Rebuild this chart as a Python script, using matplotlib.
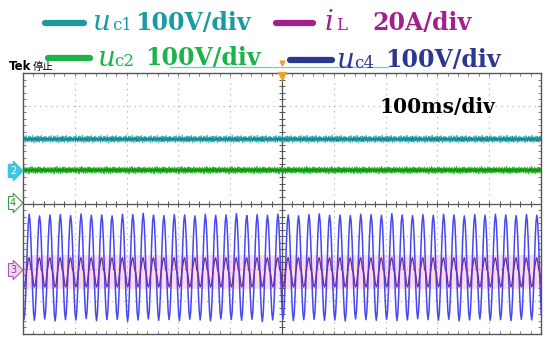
import numpy as np
import matplotlib.pyplot as plt
from matplotlib.lines import Line2D

plt.rcParams['font.family'] = ['DejaVu Sans', 'Noto Sans CJK SC']

# ---- data (vertical unit = divisions) ----
period = 0.2          # 20 ms per cycle at 100 ms/div
t_first_peak = 0.12   # first uc4 peak, in divisions from left edge

uc1_level = 1.97
uc2_level = 1.02
iL_level = -2.1

# uc1 noise (div), read roughly from the band thickness
uc1_noise = [0.04, -0.06, 0.09, -0.02, 0.07, -0.10, 0.03, 0.11, -0.05, 0.02,
             -0.08, 0.06, -0.03, 0.10, -0.07, 0.01, 0.08, -0.04, -0.09, 0.05,
             0.12, -0.06, 0.02, -0.11, 0.07, -0.01, 0.04, -0.08, 0.09, -0.05,
             0.03, 0.10, -0.07, -0.02, 0.06, -0.09, 0.08, -0.04, 0.01, 0.11,
             -0.06, 0.05, -0.10, 0.03, 0.07, -0.03, -0.08, 0.09, -0.05, 0.02,
             0.06, -0.07, 0.00]
uc2_noise = [-0.03, 0.07, -0.08, 0.02, 0.10, -0.05, 0.04, -0.09, 0.06, -0.01,
             0.08, -0.06, 0.03, -0.11, 0.05, 0.09, -0.04, 0.01, -0.07, 0.11,
             -0.02, 0.06, -0.09, 0.04, -0.05, 0.08, 0.02, -0.10, 0.07, -0.03,
             0.05, -0.08, 0.10, -0.01, -0.06, 0.03, 0.09, -0.07, 0.04, -0.04,
             0.07, -0.09, 0.01, 0.06, -0.05, 0.10, -0.02, -0.08, 0.05, 0.03,
             -0.06, 0.08, -0.04]

# uc4: one cycle shape (peak -> peak) and per-cycle top / bottom (div)
uc4_shape = [1.0, 0.86, 0.5, 0.0, -0.5, -0.86, -1.0, -0.86, -0.5, 0.0, 0.5, 0.86]
uc4_top = [-0.36, -0.33, -0.38, -0.35, -0.34, -0.37, -0.32, -0.36, -0.35, -0.38,
           -0.33, -0.34, -0.30, -0.36, -0.37, -0.34, -0.35, -0.38, -0.33, -0.36,
           -0.35, -0.31, -0.37, -0.34, -0.36, -0.33, -0.35, -0.38, -0.34, -0.32,
           -0.36, -0.35, -0.37, -0.33, -0.34, -0.36, -0.31, -0.35, -0.37, -0.34,
           -0.36, -0.33, -0.35, -0.38, -0.34, -0.36, -0.33, -0.35, -0.37, -0.34,
           -0.36]
uc4_bottom = [-3.55, -3.58, -3.54, -3.60, -3.56, -3.57, -3.53, -3.59, -3.56, -3.55,
              -3.61, -3.57, -3.54, -3.58, -3.56, -3.59, -3.55, -3.57, -3.60, -3.54,
              -3.56, -3.58, -3.55, -3.62, -3.57, -3.54, -3.59, -3.56, -3.55, -3.58,
              -3.57, -3.60, -3.54, -3.56, -3.58, -3.55, -3.59, -3.57, -3.53, -3.56,
              -3.58, -3.55, -3.60, -3.57, -3.54, -3.58, -3.56, -3.59, -3.55, -3.57,
              -3.56]

# iL: one cycle (offset from its level, div)
iL_shape = [0.44, 0.30, 0.08, 0.02, -0.12, -0.36, -0.46, -0.40, -0.18, 0.05, 0.22, 0.38]
iL_band = (-1.58, -2.62)   # faint pink envelope

# ---- build traces ----
n_cyc = len(uc4_top)
n_s = len(uc4_shape)
t_wave = t_first_peak - period + np.arange(n_cyc * n_s + 1) * period / n_s
top = np.repeat(uc4_top, n_s)
bot = np.repeat(uc4_bottom, n_s)
shape = np.tile(uc4_shape, n_cyc)
uc4 = (top + bot) / 2 + (top - bot) / 2 * shape
uc4 = np.append(uc4, uc4[0])
iL = iL_level + np.append(np.tile(iL_shape, n_cyc), iL_shape[0])

t_dc = np.linspace(0, 10, 1100)
uc1 = uc1_level + np.resize(uc1_noise, t_dc.size)
uc1b = uc1_level + np.resize(uc1_noise[::-1], t_dc.size) * 0.7
uc2 = uc2_level + np.resize(uc2_noise, t_dc.size)
uc2b = uc2_level + np.resize(uc2_noise[::-1], t_dc.size) * 0.7

W, H = 550, 343
fig = plt.figure(figsize=(W / 100, H / 100), dpi=100)


def fx(x):
    return x / W


def fy(y):
    return 1 - y / H


ax = fig.add_axes([fx(23), fy(334), fx(518), 261 / H])
ax.set_xlim(0, 10)
ax.set_ylim(-4, 4)

# grid
for gx in range(1, 10):
    ax.axvline(gx, color='#a8a8a8', lw=0.8, ls=(0, (1, 4)))
for gy in range(-3, 4):
    ax.axhline(gy, color='#a8a8a8', lw=0.8, ls=(0, (1, 4)))
ax.axvline(5, color='#555555', lw=0.9)
ax.axhline(0, color='#555555', lw=0.9)
tk = np.arange(0, 10.01, 0.2)
ax.plot(tk, np.zeros_like(tk), ls='none', marker='|', ms=4, color='#555555', mew=0.7)
tk = np.arange(-4, 4.01, 0.2)
ax.plot(np.full_like(tk, 5), tk, ls='none', marker='_', ms=4, color='#555555', mew=0.7)

ax.set_xticks([])
ax.set_yticks([])
ax.set_xticks(np.arange(0, 10.01, 0.2), minor=True)
ax.set_yticks(np.arange(-4, 4.01, 0.2), minor=True)
ax.tick_params(which='minor', direction='in', length=2.5, width=0.6, color='#666666',
               top=True, right=True, labelbottom=False, labelleft=False)
for s in ax.spines.values():
    s.set_color('#555555')
    s.set_linewidth(1.0)

# traces
ax.fill_between([0, 10], iL_band[0], iL_band[1], color='#f9dcf4', lw=0)
ax.plot(t_dc, uc1, color='#40c8d2', lw=0.8)
ax.plot(t_dc, uc1b, color='#1f7f88', lw=0.5)
ax.plot(t_dc, uc2, color='#2ccb2c', lw=0.8)
ax.plot(t_dc, uc2b, color='#178a17', lw=0.5)
ax.plot(t_wave, uc4, color='#4848f0', lw=1.1)
ax.plot(t_wave, iL, color='#6e2c9c', lw=0.9)

# channel markers
fig.text(fx(13), fy(171), '2', color='white', fontsize=7, ha='center', va='center',
         bbox=dict(boxstyle='rarrow,pad=0.15', fc='#3ec6de', ec='#3ec6de'))
fig.text(fx(13), fy(203), '4', color='#2f8f2f', fontsize=7, ha='center', va='center',
         bbox=dict(boxstyle='rarrow,pad=0.15', fc='white', ec='#3c9a3c', lw=0.8))
fig.text(fx(13), fy(270), '3', color='#8a3a9a', fontsize=7, ha='center', va='center',
         bbox=dict(boxstyle='rarrow,pad=0.15', fc='#f5d5f2', ec='#a060b0', lw=0.8))

# trigger marks
fig.add_artist(Line2D([fx(282)], [fy(76)], marker='v', ms=6, color='#f0a030', ls='none'))
fig.add_artist(Line2D([fx(282)], [fy(63)], marker='v', ms=3.5, color='#f0a030', ls='none'))

# thin cyan bar under the top legend row
fig.add_artist(Line2D([fx(170), fx(388)], [fy(67), fy(67)], color='#5cd0d8', lw=0.9))

fig.text(fx(9), fy(67), 'Tek', fontsize=8.5, fontweight='bold', va='center')
fig.text(fx(33), fy(67), '停止', fontsize=7.5, va='center',
         family=['Noto Sans CJK SC', 'DejaVu Sans'])

# legend (top)
serif = 'DejaVu Serif'
legend = [
    (45, 84, 23, '#1b9aa0', 'u', 'c1', '100V/div', 92, 112, 135),
    (276, 313, 23, '#a31f8e', 'i', 'L', '20A/div', 325, 336, 372),
    (48, 90, 58, '#1db34a', 'u', 'c2', '100V/div', 97, 114, 145),
    (290, 332, 60, '#2b3890', 'u', 'c4', '100V/div', 336, 354, 385),
]
for x0, x1, y, col, sym, sub, txt, xs, xsub, xt in legend:
    fig.add_artist(Line2D([fx(x0), fx(x1)], [fy(y), fy(y)], color=col, lw=4.5,
                          solid_capstyle='round'))
    fig.text(fx(xs), fy(y), sym, color=col, fontsize=20, style='italic', family=serif,
             va='center')
    fig.text(fx(xsub), fy(y + 3), sub, color=col, fontsize=12, family=serif, va='center')
    fig.text(fx(xt), fy(y), txt, color=col, fontsize=17, fontweight='bold', family=serif,
             va='center')

fig.text(fx(380), fy(107), '100ms/div', fontsize=14.5, fontweight='bold', family=serif,
         va='center')

fig.savefig('out.png', dpi=100)
